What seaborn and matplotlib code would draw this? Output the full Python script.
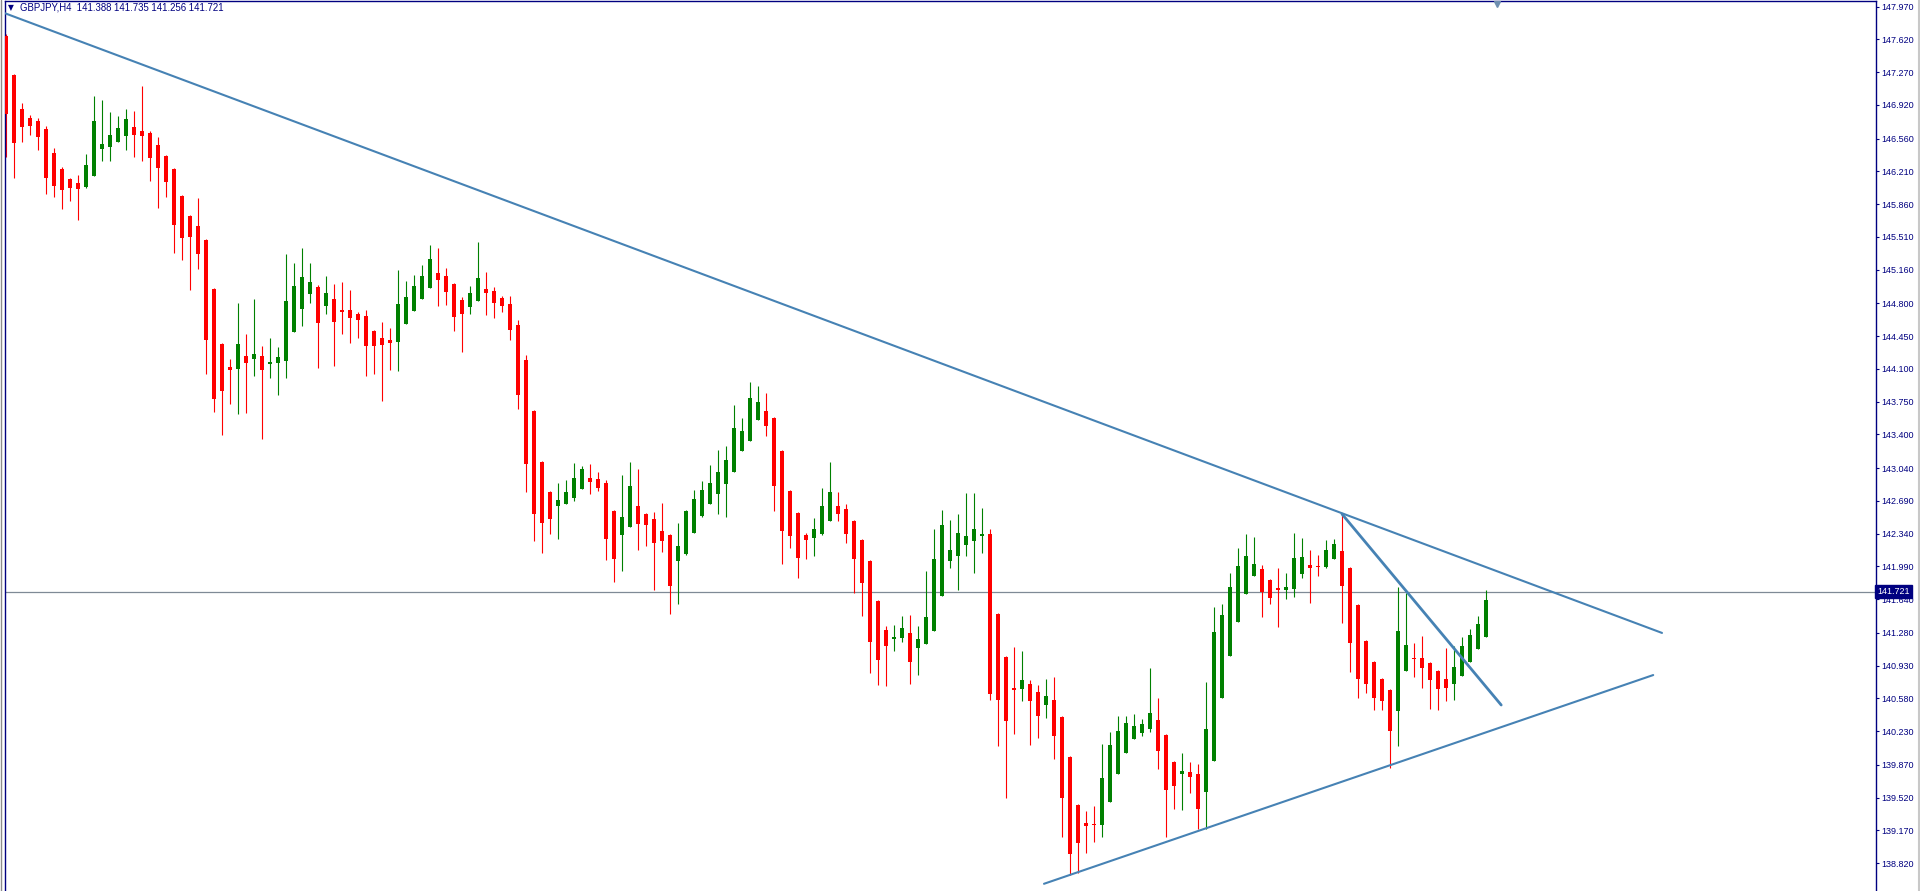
import numpy as np
import matplotlib
matplotlib.use("Agg")
import matplotlib.pyplot as plt
import matplotlib.transforms as mtransforms
from matplotlib.lines import Line2D
import seaborn as sns

# GBPJPY H4 bars
opens = [
    147.66, 147.24, 146.88, 146.78, 146.75, 146.66, 146.41, 146.24, 146.13, 146.09,
    146.04, 146.16, 146.45, 146.47, 146.52, 146.59, 146.69, 146.64, 146.62, 146.49,
    146.38, 146.24, 145.95, 145.73, 145.63, 145.48, 144.95, 144.37, 144.12, 144.10,
    144.24, 144.21, 144.24, 144.15, 144.16, 144.18, 144.50, 144.74, 144.90, 144.98,
    144.77, 144.85, 144.73, 144.73, 144.69, 144.67, 144.51, 144.43, 144.41, 144.39,
    144.58, 144.72, 144.85, 144.96, 145.13, 145.09, 145.01, 144.84, 144.76, 144.83,
    144.95, 144.93, 144.86, 144.79, 144.57, 144.20, 143.65, 143.11, 142.79, 142.64,
    142.66, 142.72, 142.82, 142.94, 142.92, 142.88, 142.58, 142.33, 142.41, 142.64,
    142.55, 142.50, 142.37, 142.33, 142.05, 142.12, 142.35, 142.53, 142.66, 142.76,
    142.87, 143.00, 143.22, 143.33, 143.55, 143.65, 143.58, 143.22, 142.80, 142.56,
    142.33, 142.29, 142.34, 142.48, 142.64, 142.60, 142.48, 142.27, 142.05, 141.62,
    141.31, 141.22, 141.23, 141.28, 141.12, 141.16, 141.30, 141.67, 142.05, 142.10,
    142.22, 142.26, 142.32, 142.34, 141.48, 141.02, 140.69, 140.68, 140.73, 140.65,
    140.51, 140.56, 140.38, 139.95, 139.44, 139.25, 139.24, 139.23, 139.47, 139.77,
    140.00, 140.15, 140.21, 140.25, 140.35, 140.19, 139.90, 139.77, 139.79, 139.77,
    139.58, 139.91, 140.59, 141.03, 141.40, 141.70, 141.89, 141.96, 141.85, 141.76,
    141.74, 141.75, 141.91, 142.01, 141.99, 141.98, 142.07, 142.16, 141.97, 141.58,
    141.19, 140.97, 140.79, 140.67, 140.45, 140.87, 141.01, 141.01, 140.96, 140.87,
    140.79, 140.73, 140.82, 140.97, 141.11, 141.24]
highs = [
    147.68, 147.25, 146.94, 146.81, 146.78, 146.70, 146.46, 146.26, 146.14, 146.17,
    146.40, 147.02, 146.97, 146.84, 146.80, 146.88, 146.86, 147.12, 146.64, 146.58,
    146.39, 146.25, 145.96, 145.74, 145.93, 145.49, 144.96, 144.38, 144.21, 144.81,
    144.47, 144.85, 144.35, 144.43, 144.33, 145.33, 145.23, 145.39, 145.23, 145.00,
    145.09, 145.01, 145.03, 144.94, 144.71, 144.73, 144.52, 144.60, 144.54, 145.16,
    145.04, 145.10, 145.21, 145.42, 145.39, 145.18, 145.02, 144.87, 144.99, 145.46,
    145.14, 144.98, 144.88, 144.88, 144.62, 144.25, 143.66, 143.12, 142.80, 142.88,
    142.91, 143.10, 143.06, 143.08, 143.00, 142.91, 142.59, 142.97, 143.11, 143.03,
    142.56, 142.57, 142.67, 142.34, 142.45, 142.59, 142.81, 142.90, 143.07, 143.23,
    143.28, 143.72, 143.58, 143.96, 143.92, 143.84, 143.59, 143.23, 142.81, 142.57,
    142.35, 142.51, 142.83, 143.11, 142.79, 142.66, 142.49, 142.28, 142.06, 141.63,
    141.35, 141.36, 141.46, 141.47, 141.35, 141.94, 142.39, 142.59, 142.49, 142.55,
    142.77, 142.77, 142.61, 142.39, 141.49, 141.03, 141.13, 141.09, 140.78, 140.72,
    140.79, 140.81, 140.39, 139.96, 139.45, 139.38, 139.43, 140.09, 140.22, 140.39,
    140.39, 140.41, 140.36, 140.90, 140.58, 140.20, 139.91, 140.00, 139.90, 139.88,
    140.76, 141.56, 141.59, 141.92, 142.19, 142.34, 142.30, 142.01, 141.86, 141.97,
    141.92, 142.35, 142.29, 142.17, 142.11, 142.27, 142.28, 142.55, 141.98, 141.59,
    141.20, 140.98, 140.80, 140.68, 141.77, 141.71, 141.17, 141.25, 140.97, 140.88,
    141.12, 141.14, 141.24, 141.32, 141.46, 141.74]
lows = [
    146.36, 146.14, 146.52, 146.60, 146.44, 145.97, 145.94, 145.81, 145.89, 145.69,
    146.03, 146.16, 146.32, 146.32, 146.52, 146.44, 146.36, 146.32, 146.11, 145.82,
    145.94, 145.34, 145.26, 144.94, 145.17, 144.05, 143.64, 143.39, 143.73, 143.62,
    143.63, 144.02, 143.35, 144.00, 143.82, 144.00, 144.50, 144.56, 144.80, 144.11,
    144.69, 144.13, 144.47, 144.38, 144.43, 144.03, 144.05, 143.76, 144.09, 144.08,
    144.58, 144.72, 144.85, 144.96, 144.77, 144.78, 144.51, 144.28, 144.69, 144.83,
    144.68, 144.64, 144.71, 144.41, 143.67, 142.79, 142.26, 142.13, 142.34, 142.28,
    142.66, 142.69, 142.82, 142.76, 142.80, 142.06, 141.82, 141.94, 142.41, 142.17,
    142.21, 141.74, 142.14, 141.48, 141.59, 142.11, 142.35, 142.52, 142.66, 142.55,
    142.52, 143.00, 143.22, 143.33, 143.55, 143.38, 142.58, 142.02, 142.19, 141.87,
    142.07, 142.10, 142.33, 142.48, 142.48, 142.24, 141.71, 141.46, 140.85, 140.72,
    140.71, 141.09, 141.18, 140.73, 140.83, 141.16, 141.30, 141.67, 141.97, 141.74,
    142.10, 141.92, 142.13, 140.56, 140.07, 139.52, 140.20, 140.55, 140.08, 140.16,
    140.37, 139.93, 139.10, 138.69, 138.72, 138.93, 139.05, 139.10, 139.47, 139.77,
    140.00, 140.15, 140.18, 140.22, 139.83, 139.10, 139.40, 139.39, 139.57, 139.19,
    139.19, 139.91, 140.59, 141.03, 141.40, 141.70, 141.89, 141.45, 141.59, 141.34,
    141.64, 141.66, 141.87, 141.60, 141.89, 141.97, 142.07, 141.39, 140.86, 140.58,
    140.64, 140.46, 140.46, 139.84, 140.07, 140.87, 140.81, 140.69, 140.47, 140.46,
    140.55, 140.56, 140.82, 140.97, 141.11, 141.24]
closes = [
    146.82, 146.51, 146.69, 146.70, 146.58, 146.14, 146.05, 146.01, 146.03, 146.02,
    146.28, 146.75, 146.50, 146.60, 146.67, 146.77, 146.60, 146.59, 146.35, 146.25,
    146.10, 145.64, 145.50, 145.51, 145.33, 144.41, 143.78, 143.86, 144.09, 144.37,
    144.16, 144.26, 144.09, 144.17, 144.23, 144.83, 144.99, 145.08, 145.03, 144.59,
    144.91, 144.60, 144.71, 144.64, 144.62, 144.35, 144.35, 144.36, 144.38, 144.79,
    144.87, 144.99, 145.09, 145.27, 145.05, 144.92, 144.66, 144.69, 144.91, 145.07,
    144.91, 144.81, 144.77, 144.52, 143.82, 143.08, 142.55, 142.45, 142.50, 142.70,
    142.79, 142.94, 143.03, 142.89, 142.83, 142.28, 142.07, 142.52, 142.85, 142.44,
    142.43, 142.24, 142.26, 141.78, 142.21, 142.58, 142.71, 142.81, 142.88, 143.00,
    143.13, 143.47, 143.44, 143.79, 143.75, 143.49, 142.85, 142.37, 142.32, 142.08,
    142.27, 142.39, 142.64, 142.79, 142.55, 142.34, 142.07, 141.81, 141.18, 140.99,
    141.14, 141.24, 141.33, 140.97, 141.22, 141.45, 142.07, 142.43, 142.17, 142.35,
    142.32, 142.39, 142.34, 140.63, 140.56, 140.34, 140.67, 140.78, 140.55, 140.39,
    140.61, 140.18, 139.52, 138.92, 139.04, 139.22, 139.23, 139.73, 140.08, 140.23,
    140.32, 140.29, 140.31, 140.42, 140.02, 139.60, 139.64, 139.81, 139.74, 139.40,
    140.25, 141.29, 141.47, 141.77, 141.99, 142.10, 142.02, 141.72, 141.65, 141.74,
    141.77, 142.08, 142.09, 141.97, 141.98, 142.17, 142.23, 141.78, 141.17, 140.79,
    140.73, 140.59, 140.55, 140.23, 141.30, 141.15, 141.00, 140.90, 140.78, 140.68,
    140.69, 140.92, 141.14, 141.26, 141.38, 141.63]

# trendlines: (bar index, price) endpoints
trend_upper_x = [-0.125, 207.0]
trend_upper_y = [147.90, 141.28]
trend_lower_x = [129.75, 205.9]
trend_lower_y = [138.60, 140.83]
trend_short_x = [167.0, 186.9]
trend_short_y = [142.55, 140.51]

bid_price = 141.721
header = "GBPJPY,H4  141.388 141.735 141.256 141.721"
price_ticks = [147.970, 147.620, 147.270, 146.920, 146.560, 146.210, 145.860,
               145.510, 145.160, 144.800, 144.450, 144.100, 143.750, 143.400,
               143.040, 142.690, 142.340, 141.990, 141.640, 141.280, 140.930,
               140.580, 140.230, 139.870, 139.520, 139.170, 138.820]

NAVY = "#000080"
UP = "#008000"
DOWN = "#ff0000"
LINE = "#4682b4"

sns.set_style("white")
plt.rcParams["font.family"] = ["Liberation Sans", "DejaVu Sans"]

W, H = 1920, 891
fig = plt.figure(figsize=(W / 100, H / 100), dpi=100)
fig.patch.set_facecolor("white")
ax = fig.add_axes([4.5 / W, 0, (1876 - 4.5) / W, 890 / H])

o = np.array(opens)
hi = np.array(highs)
lo = np.array(lows)
c = np.array(closes)
idx = np.arange(len(o))
up = c >= o
colors = np.where(up, UP, DOWN)

# wicks
ax.vlines(idx, lo, hi, colors=colors, linewidth=0.8, zorder=2)
# bodies
body_low = np.minimum(o, c)
body_h = np.maximum(np.abs(c - o), 0.012)
ax.bar(idx, body_h, bottom=body_low, width=0.62, color=colors,
       linewidth=0, zorder=3)

# current bid line
ax.axhline(bid_price, color="#7f8a96", linewidth=0.9, zorder=1)

# trendlines
sns.lineplot(x=trend_upper_x, y=trend_upper_y, ax=ax, color=LINE,
             linewidth=1.5, zorder=4)
sns.lineplot(x=trend_lower_x, y=trend_lower_y, ax=ax, color=LINE,
             linewidth=1.5, zorder=4)
sns.lineplot(x=trend_short_x, y=trend_short_y, ax=ax, color=LINE,
             linewidth=2.0, zorder=4)

ax.set_xlim(-0.1875, 233.75)
ax.set_ylim(138.523, 148.031)
ax.set_xticks([])
ax.yaxis.tick_right()
ax.set_yticks(price_ticks)
ax.set_yticklabels([f"{p:.3f}" for p in price_ticks])
ax.tick_params(axis="y", direction="out", length=2.2, width=0.8, color=NAVY,
               labelcolor=NAVY, labelsize=6.5, pad=1.5)
for side in ["left", "right", "top"]:
    ax.spines[side].set_color(NAVY)
    ax.spines[side].set_linewidth(1.0)
ax.spines["bottom"].set_visible(False)
ax.set_xlabel("")
ax.set_ylabel("")

# bid price tag on the axis
trans = mtransforms.blended_transform_factory(ax.transAxes, ax.transData)
ax.text(1.0008, bid_price, "141.721", transform=trans, ha="left", va="center",
        color="white", fontsize=6.5, zorder=6, clip_on=False,
        bbox=dict(boxstyle="square,pad=0.25", facecolor=NAVY, edgecolor=NAVY))

# chart shift marker at top
trans_top = mtransforms.blended_transform_factory(ax.transData, ax.transAxes)
ax.plot([186.4], [0.997], marker="v", markersize=5, color="#6f8fb0",
        transform=trans_top, clip_on=False, zorder=6)

# header
fig.text(8 / W, 1 - 8 / H, "\u25bc", color=NAVY, fontsize=5.5,
         ha="left", va="center", family="DejaVu Sans")
fig.text(20 / W, 1 - 8 / H, header, color=NAVY, fontsize=6.9,
         ha="left", va="center")

# window borders
fig.add_artist(Line2D([0.6 / W, 0.6 / W], [0, 1], color="#8c8c8c", linewidth=1))
fig.add_artist(Line2D([1918.5 / W, 1918.5 / W], [0, 1], color="#c8c8c8", linewidth=1.5))

fig.savefig("out.png", dpi=100, facecolor="white")
